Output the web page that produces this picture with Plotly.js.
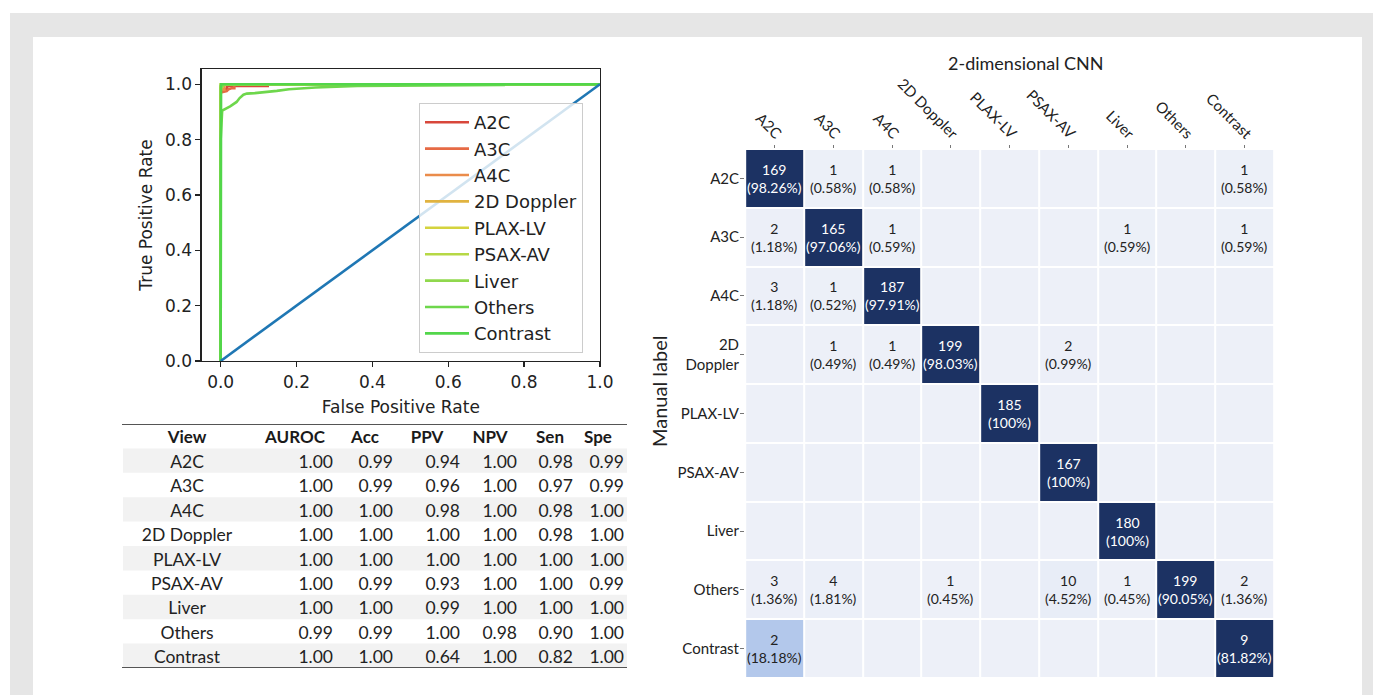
<!DOCTYPE html>
<html>
<head>
<meta charset="utf-8">
<script src="https://cdn.plot.ly/plotly-3.0.1.min.js"></script>
<style>
  html, body { margin: 0; padding: 0; background: #ffffff; }
  #fig { width: 1373px; height: 695px; }
</style>
</head>
<body>
<div id="fig"></div>
<script>
// ---- View classes ----
const views = ['A2C', 'A3C', 'A4C', '2D Doppler', 'PLAX-LV', 'PSAX-AV', 'Liver', 'Others', 'Contrast'];
const rocColors = ['#d8473b', '#e66a45', '#ea8c4b', '#e1b340', '#d4d33e', '#b6d845', '#90d84d', '#6ed74c', '#52d64a'];

// ---- ROC curves (false positive rate / true positive rate) ----
const fprA2C = [0, 0, 0.017, 0.017, 0.124, 0.124, 1];
const tprA2C = [0, 0.983, 0.983, 0.994, 0.994, 1, 1];
const fprA3C = [0, 0, 0.016, 0.021, 0.03, 0.036, 0.036, 1];
const tprA3C = [0, 0.97, 0.975, 0.982, 0.986, 0.986, 1, 1];
const fprA4C = [0, 0, 0.01, 0.01, 1];
const tprA4C = [0, 0.98, 0.98, 1, 1];
const fprDoppler = [0, 0, 0.003, 0.003, 1];
const tprDoppler = [0, 0.985, 0.985, 1, 1];
const fprPlax = [0, 0, 1];
const tprPlax = [0, 1, 1];
const fprPsax = [0, 0, 0.004, 0.004, 1];
const tprPsax = [0, 0.99, 0.99, 1, 1];
const fprLiver = [0, 0, 0.006, 0.006, 1];
const tprLiver = [0, 0.994, 0.994, 1, 1];
const fprOthers = [0, 0, 0.004, 0.012, 0.025, 0.042, 0.05, 0.06, 0.069, 0.09, 0.11, 0.148, 0.18, 0.25, 0.36, 0.746, 0.746, 1];
const tprOthers = [0, 0.80, 0.905, 0.91, 0.92, 0.936, 0.95, 0.962, 0.966, 0.968, 0.97, 0.976, 0.982, 0.988, 0.994, 0.997, 1, 1];
const fprContrast = [0, 0, 0.001, 0.001, 1];
const tprContrast = [0, 0.91, 0.91, 1, 1];

const rocFpr = [fprA2C, fprA3C, fprA4C, fprDoppler, fprPlax, fprPsax, fprLiver, fprOthers, fprContrast];
const rocTpr = [tprA2C, tprA3C, tprA4C, tprDoppler, tprPlax, tprPsax, tprLiver, tprOthers, tprContrast];

// ---- Performance table ----
const tableHeaders = ['View', 'AUROC', 'Acc', 'PPV', 'NPV', 'Sen', 'Spe'];
const auroc = [1.00, 1.00, 1.00, 1.00, 1.00, 1.00, 1.00, 0.99, 1.00];
const acc   = [0.99, 0.99, 1.00, 1.00, 1.00, 0.99, 1.00, 0.99, 1.00];
const ppv   = [0.94, 0.96, 0.98, 1.00, 1.00, 0.93, 0.99, 1.00, 0.64];
const npv   = [1.00, 1.00, 1.00, 1.00, 1.00, 1.00, 1.00, 0.98, 1.00];
const sen   = [0.98, 0.97, 0.98, 0.98, 1.00, 1.00, 1.00, 0.90, 0.82];
const spe   = [0.99, 0.99, 1.00, 1.00, 1.00, 0.99, 1.00, 1.00, 1.00];

// ---- Confusion matrix (rows: manual label, columns: 2D CNN prediction) ----
const cmCounts = [
  [169, 1, 1, 0, 0, 0, 0, 0, 1],
  [2, 165, 1, 0, 0, 0, 1, 0, 1],
  [3, 1, 187, 0, 0, 0, 0, 0, 0],
  [0, 1, 1, 199, 0, 2, 0, 0, 0],
  [0, 0, 0, 0, 185, 0, 0, 0, 0],
  [0, 0, 0, 0, 0, 167, 0, 0, 0],
  [0, 0, 0, 0, 0, 0, 180, 0, 0],
  [3, 4, 0, 1, 0, 10, 1, 199, 2],
  [2, 0, 0, 0, 0, 0, 0, 0, 9]
];
const cmPercent = [
  [98.26, 0.58, 0.58, 0, 0, 0, 0, 0, 0.58],
  [1.18, 97.06, 0.59, 0, 0, 0, 0.59, 0, 0.59],
  [1.18, 0.52, 97.91, 0, 0, 0, 0, 0, 0],
  [0, 0.49, 0.49, 98.03, 0, 0.99, 0, 0, 0],
  [0, 0, 0, 0, 100, 0, 0, 0, 0],
  [0, 0, 0, 0, 0, 100, 0, 0, 0],
  [0, 0, 0, 0, 0, 0, 100, 0, 0],
  [1.36, 1.81, 0, 0.45, 0, 4.52, 0.45, 90.05, 1.36],
  [18.18, 0, 0, 0, 0, 0, 0, 0, 81.82]
];
const cmRowLabels = ['A2C', 'A3C', 'A4C', '2D<br>Doppler', 'PLAX-LV', 'PSAX-AV', 'Liver', 'Others', 'Contrast'];

// ---------------------------------------------------------------
const W = 1373, H = 695;
const px = v => v / W;            // horizontal pixel -> paper
const py = v => 1 - v / H;        // vertical pixel -> paper

const tableFont = 'Lato, "Open Sans", sans-serif';
const mplFont = '"DejaVu Sans", sans-serif';
const traces = [];

// ROC lines
views.forEach((v, i) => {
  traces.push({
    type: 'scatter', mode: 'lines', name: v,
    x: rocFpr[i], y: rocTpr[i],
    line: { color: rocColors[i], width: 2.6 },
    legendgroup: 'g' + i,
    xaxis: 'x', yaxis: 'y', hoverinfo: 'skip'
  });
});
// chance line
traces.push({
  type: 'scatter', mode: 'lines', x: [0, 1], y: [0, 1],
  line: { color: '#1f77b4', width: 2.6 }, showlegend: false,
  xaxis: 'x', yaxis: 'y', hoverinfo: 'skip'
});

// Table text columns
const colCenters = [187, 295, 365, 427, 490, 550, 598];
const colRights = [null, 333, 393, 460, 517, 573, 624];
const textNudge = 0.12;   // optical centring of text within a row
const rowIdx = views.map((_, i) => i + 1);
traces.push({
  type: 'scatter', mode: 'text', xaxis: 'x3', yaxis: 'y3', showlegend: false,
  x: colCenters, y: tableHeaders.map(() => textNudge),
  text: tableHeaders.map(h => '<b>' + h + '</b>'),
  textposition: 'middle center', cliponaxis: false, hoverinfo: 'skip',
  textfont: { family: tableFont, size: 17, color: '#1a1a1a' }
});
traces.push({
  type: 'scatter', mode: 'text', xaxis: 'x3', yaxis: 'y3', showlegend: false,
  x: views.map(() => colCenters[0]), y: rowIdx.map(i => i + textNudge), text: views,
  textposition: 'middle center', cliponaxis: false, hoverinfo: 'skip',
  textfont: { family: tableFont, size: 17.5, color: '#222' }
});
[auroc, acc, ppv, npv, sen, spe].forEach((col, c) => {
  traces.push({
    type: 'scatter', mode: 'text', xaxis: 'x3', yaxis: 'y3', showlegend: false,
    x: col.map(() => colRights[c + 1]), y: rowIdx.map(i => i + textNudge),
    text: col.map(v => v.toFixed(2)),
    textposition: 'middle left', cliponaxis: false, hoverinfo: 'skip',
    textfont: { family: tableFont, size: 17.5, color: '#222' }
  });
});

// Confusion matrix heatmap
traces.push({
  type: 'heatmap', xaxis: 'x2', yaxis: 'y2',
  x: views, y: views, z: cmPercent,
  zmin: 0, zmax: 100, showscale: false, xgap: 2, ygap: 2,
  colorscale: [[0, '#edf0f8'], [0.06, '#e7ecf7'], [0.19, '#afc6ea'], [0.5, '#1c3263'], [1, '#1c3263']],
  hoverinfo: 'skip'
});

// cell labels
const annotations = [];
cmCounts.forEach((row, r) => {
  row.forEach((n, c) => {
    if (n === 0) return;
    const p = cmPercent[r][c];
    const pTxt = p === 100 ? '100' : p.toFixed(2);
    annotations.push({
      xref: 'x2', yref: 'y2', x: views[c], y: views[r],
      xanchor: 'center', yanchor: 'middle',
      text: n + '<br>(' + pTxt + '%)', showarrow: false,
      font: { family: tableFont, size: 14, color: p > 50 ? '#ffffff' : '#222222' }
    });
  });
});
annotations.push({
  xref: 'paper', yref: 'paper', x: px(1026), y: py(63),
  xanchor: 'center', yanchor: 'middle',
  text: '2-dimensional CNN', showarrow: false,
  font: { family: tableFont, size: 18, color: '#222' }
});
annotations.push({
  xref: 'paper', yref: 'paper', x: px(659), y: py(392), textangle: -90,
  xanchor: 'center', yanchor: 'middle',
  text: 'Manual label', showarrow: false,
  font: { family: tableFont, size: 20, color: '#222' }
});

// Background frame + table rules and stripes
const shapes = [
  { type: 'rect', xref: 'paper', yref: 'paper', layer: 'below',
    x0: px(10), x1: 1, y0: 0, y1: py(13), fillcolor: '#e6e6e6', line: { width: 0 } },
  { type: 'rect', xref: 'paper', yref: 'paper', layer: 'below',
    x0: px(33), x1: px(1362), y0: 0, y1: py(37), fillcolor: '#ffffff', line: { width: 0 } }
];
rowIdx.forEach(i => {
  if (i % 2 === 1) {
    shapes.push({ type: 'rect', xref: 'x3', yref: 'y3', layer: 'below',
      x0: 123, x1: 627, y0: i - 0.5, y1: i + 0.5, fillcolor: '#f2f2f2', line: { width: 0 } });
  }
});
shapes.push({ type: 'line', xref: 'x3', yref: 'y3', x0: 122, x1: 627, y0: -0.5, y1: -0.5,
  line: { color: '#555', width: 2 } });
shapes.push({ type: 'line', xref: 'x3', yref: 'y3', x0: 122, x1: 627, y0: 9.5, y1: 9.5,
  line: { color: '#555', width: 2 } });

const layout = {
  width: W, height: H,
  margin: { l: 0, r: 0, t: 0, b: 0 },
  paper_bgcolor: '#ffffff', plot_bgcolor: 'rgba(0,0,0,0)',
  showlegend: true,
  legend: {
    x: px(419), y: py(103), xanchor: 'left', yanchor: 'top',
    bgcolor: 'rgba(255,255,255,0.8)', bordercolor: '#cccccc', borderwidth: 1,
    font: { family: mplFont, size: 18, color: '#222' },
    tracegroupgap: 0, itemwidth: 44
  },
  xaxis: {
    domain: [px(201.7), px(600)], anchor: 'y', range: [-0.05, 1.0],
    showline: true, mirror: true, linecolor: '#222', linewidth: 1.3,
    ticks: 'outside', ticklen: 5, tickwidth: 1.3, tickcolor: '#222',
    dtick: 0.2, tick0: 0, tickformat: '.1f', showgrid: false, zeroline: false,
    tickfont: { family: mplFont, size: 17, color: '#222' },
    title: { text: 'False Positive Rate', font: { family: mplFont, size: 17, color: '#222' }, standoff: 10 }
  },
  yaxis: {
    domain: [py(361), py(69)], anchor: 'x', range: [0, 1.055],
    showline: true, mirror: true, linecolor: '#222', linewidth: 1.3,
    ticks: 'outside', ticklen: 5, tickwidth: 1.3, tickcolor: '#222',
    dtick: 0.2, tick0: 0, tickformat: '.1f', showgrid: false, zeroline: false,
    tickfont: { family: mplFont, size: 17, color: '#222' },
    title: { text: 'True Positive Rate', font: { family: mplFont, size: 17, color: '#222' }, standoff: 8 }
  },
  xaxis2: {
    domain: [px(745), px(1274)], anchor: 'y2', side: 'top', type: 'category',
    tickangle: 45, ticks: 'outside', ticklen: 3, tickcolor: '#777', tickwidth: 1,
    ticklabelshift: 6, ticklabelstandoff: -3,
    showgrid: false, zeroline: false, showline: false,
    tickfont: { family: tableFont, size: 15, color: '#222' }
  },
  yaxis2: {
    domain: [py(678), py(149)], anchor: 'x2', type: 'category', autorange: 'reversed',
    tickvals: views, ticktext: cmRowLabels,
    ticks: 'outside', ticklen: 4, tickcolor: '#777', tickwidth: 1,
    ticklabelstandoff: -2,
    showgrid: false, zeroline: false, showline: false,
    tickfont: { family: tableFont, size: 15, color: '#222' }
  },
  xaxis3: { domain: [px(122), px(627)], anchor: 'y3', range: [122, 627], visible: false, fixedrange: true },
  yaxis3: { domain: [py(668), py(424)], anchor: 'x3', range: [9.5, -0.5], visible: false, fixedrange: true },
  shapes: shapes,
  annotations: annotations
};

Plotly.newPlot('fig', traces, layout, { displayModeBar: false, staticPlot: true });
</script>
</body>
</html>
